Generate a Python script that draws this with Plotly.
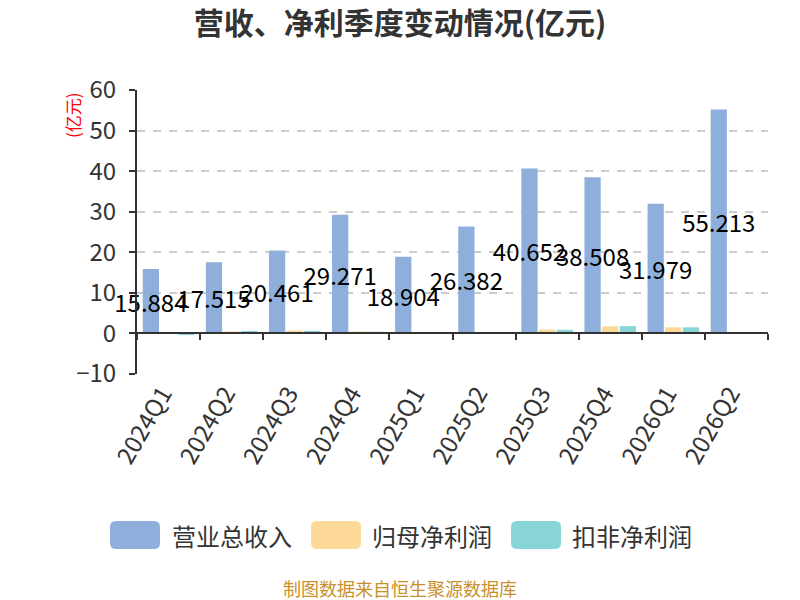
import plotly.graph_objects as go

# Quarterly data (亿元)
quarters = ['2024Q1', '2024Q2', '2024Q3', '2024Q4', '2025Q1',
            '2025Q2', '2025Q3', '2025Q4', '2026Q1', '2026Q2']
revenue = [15.884, 17.515, 20.461, 29.271, 18.904, 26.382, 40.652, 38.508, 31.979, 55.213]
net_profit = [0.02, 0.5, 0.7, 0.45, 0.35, 0.35, 0.95, 1.75, 1.5, 0.1]
net_profit_deducted = [-0.4, 0.6, 0.6, 0.4, 0.35, 0.3, 0.9, 1.8, 1.5, 0.35]

series_names = ['营业总收入', '归母净利润', '扣非净利润']
colors = ['#8eafdc', '#fdd998', '#88d5d8']

FONT = 'Noto Sans CJK SC'

# Plot area in pixels (800x600 page)
L, R, T, B = 137, 768, 90, 374
y_range = [-10, 60]
x_range = [-0.5, len(quarters) - 0.5]


def px_x(px):
    return (px - L) / (R - L)


def px_y(py):
    return (B - py) / (B - T)


fig = go.Figure()

# Bars; revenue carries its value label centred inside the bar
fig.add_trace(go.Bar(x=quarters, y=revenue, name=series_names[0],
                     marker_color=colors[0], marker_line_width=0, showlegend=False,
                     text=['%.3f' % v for v in revenue], textposition='inside',
                     insidetextanchor='middle', constraintext='none', textangle=0,
                     cliponaxis=False,
                     insidetextfont=dict(size=24, color='#000000', family=FONT)))
for name, vals, col in zip(series_names[1:], [net_profit, net_profit_deducted], colors[1:]):
    fig.add_trace(go.Bar(x=quarters, y=vals, name=name, marker_color=col,
                         marker_line_width=0, showlegend=False))

# Empty trace so the zero-line axis gets drawn
fig.add_trace(go.Scatter(x=quarters, y=[None] * len(quarters), xaxis='x2', mode='lines',
                         showlegend=False, hoverinfo='skip'))

zero_pos = (0 - y_range[0]) / (y_range[1] - y_range[0])

fig.update_layout(
    width=800, height=600,
    paper_bgcolor='white', plot_bgcolor='white',
    margin=dict(l=L, r=800 - R, t=T, b=600 - B),
    font=dict(family=FONT, color='#333333'),
    barmode='group', bargap=0.16, bargroupgap=0.08,
    title=dict(text='<b>营收、净利季度变动情况(亿元)</b>', x=0.5, xanchor='center',
               y=1 - 23 / 600, yanchor='middle', yref='container',
               font=dict(size=30, color='#333333', family=FONT)),
    xaxis=dict(type='category', categoryorder='array', categoryarray=quarters,
               range=x_range, showline=False, ticks='', showgrid=False, zeroline=False,
               tickangle=-60, ticklabelshift=-6,
               tickfont=dict(size=24, color='#333333')),
    xaxis2=dict(overlaying='x', matches='x', anchor='free', position=zero_pos,
                showline=True, linecolor='#333333', linewidth=2,
                ticks='outside', tickson='boundaries', ticklen=6, tickwidth=2,
                tickcolor='#333333', showticklabels=False, showgrid=False,
                zeroline=False),
    yaxis=dict(range=y_range, dtick=10, showline=True, linecolor='#333333',
               linewidth=2, ticks='outside', ticklen=6, tickwidth=2,
               tickcolor='#333333', showgrid=True, gridcolor='#cccccc',
               griddash='8px,8px', gridwidth=1.5, zeroline=False,
               ticklabelstandoff=8,
               tickfont=dict(size=24, color='#333333')),
)

# Y unit label
fig.add_annotation(text='(亿元)', xref='paper', yref='paper', x=px_x(72), y=px_y(115),
                   textangle=-90, showarrow=False, xanchor='center', yanchor='middle',
                   font=dict(size=17, color='#ff0000', family=FONT))

# Custom legend with big rounded boxes
box_centers = [135, 336, 536]
text_lefts = [170, 370, 570]
legend_y = 535
rw, rh, rr = 25, 14, 6
rounded = (f'M {-rw + rr},{-rh} L {rw - rr},{-rh} Q {rw},{-rh} {rw},{-rh + rr} '
           f'L {rw},{rh - rr} Q {rw},{rh} {rw - rr},{rh} L {-rw + rr},{rh} '
           f'Q {-rw},{rh} {-rw},{rh - rr} L {-rw},{-rh + rr} Q {-rw},{-rh} {-rw + rr},{-rh} Z')
for cx, tx, name, col in zip(box_centers, text_lefts, series_names, colors):
    fig.add_shape(type='path', xref='paper', yref='paper',
                  xsizemode='pixel', ysizemode='pixel',
                  xanchor=px_x(cx), yanchor=px_y(legend_y), path=rounded,
                  fillcolor=col, line_width=0)
    fig.add_annotation(text=name, xref='paper', yref='paper', x=px_x(tx), y=px_y(legend_y),
                       xanchor='left', yanchor='middle', showarrow=False,
                       font=dict(size=24, color='#333333', family=FONT))

# Source note
fig.add_annotation(text='制图数据来自恒生聚源数据库', xref='paper', yref='paper',
                   x=px_x(400), y=px_y(588), xanchor='center', yanchor='middle',
                   showarrow=False, font=dict(size=18, color='#c8902a', family=FONT))

fig.write_html("out.html", config={'displayModeBar': False},
               post_script="document.body.style.margin='0';")
